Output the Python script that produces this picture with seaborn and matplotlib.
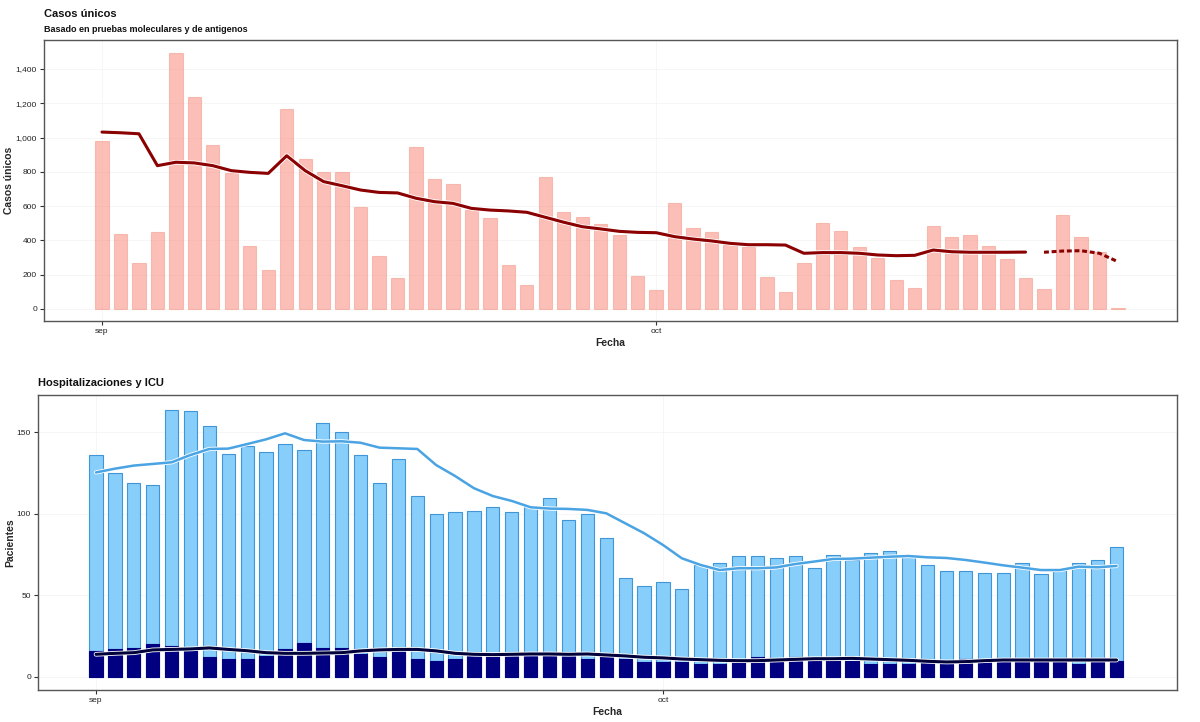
import numpy as np
import pandas as pd
import matplotlib
matplotlib.use("Agg")
import matplotlib.pyplot as plt
import matplotlib.patheffects as pe
from matplotlib.ticker import FuncFormatter
import seaborn as sns

# ---------------------------------------------------------------------------
# Datos
# ---------------------------------------------------------------------------
fecha_inicio = "2021-09-01"

casos = [980, 437, 267, 447, 1495, 1238, 957, 795, 369, 227,
         1167, 875, 801, 797, 593, 311, 179, 947, 757, 727,
         577, 529, 258, 138, 772, 564, 535, 494, 433, 192,
         111, 618, 474, 449, 373, 360, 187, 101, 268, 502,
         455, 362, 298, 169, 122, 484, 420, 432, 369, 292,
         183, 117, 548, 420, 332, 5]

# promedio movil: parte consolidada y parte preliminar (punteada)
promedio_casos = [1032, 1028, 1022, 836, 856, 852, 836, 807, 797, 791,
                  894, 807, 743, 719, 694, 680, 677, 646, 626, 616,
                  587, 577, 572, 564, 535, 506, 480, 467, 453, 447,
                  445, 422, 408, 397, 383, 375, 375, 373, 325, 329,
                  329, 325, 315, 311, 313, 344, 334, 331, 331, 331,
                  332]
promedio_prelim = [331, 338, 340, 325, 276]

hospitalizados = [136, 125, 119, 118, 164, 163, 154, 137, 142, 138,
                  143, 139, 156, 150, 136, 119, 134, 111, 100, 101,
                  102, 104, 101, 104, 110, 96, 100, 85, 61, 56,
                  58, 54, 69, 70, 74, 74, 73, 74, 67, 75,
                  72, 76, 77, 74, 69, 65, 65, 64, 64, 70,
                  63, 66, 70, 72, 80]

icu = [16, 17, 18, 20, 19, 18, 12, 11, 11, 13,
       17, 21, 18, 18, 14, 12, 17, 11, 10, 11,
       13, 14, 13, 13, 14, 13, 11, 14, 11, 9,
       9, 9, 8, 8, 10, 12, 11, 12, 10, 11,
       10, 8, 8, 8, 9, 9, 11, 11, 11, 10,
       10, 10, 8, 10, 10]

promedio_hosp = [125.5, 127.8, 129.7, 130.7, 131.7, 136.2, 139.9, 140.1, 142.9, 145.8,
                 149.5, 145.4, 144.4, 144.6, 143.7, 140.7, 140.3, 139.9, 130.0, 123.3,
                 115.8, 111.0, 108.0, 104.1, 103.3, 103.1, 102.5, 100.4, 94.3, 88.2,
                 81.0, 72.8, 68.7, 65.6, 66.7, 66.7, 67.2, 69.3, 70.8, 72.4,
                 72.6, 73.2, 73.8, 74.2, 73.4, 73.0, 71.8, 70.2, 68.5, 67.1,
                 65.6, 65.6, 67.7, 67.3, 68.1]

promedio_icu = [13.9, 14.5, 14.9, 16.6, 16.9, 17.2, 17.8, 16.9, 16.1, 14.9,
                14.5, 14.5, 14.7, 14.9, 16.0, 16.6, 16.9, 16.9, 16.0, 14.5,
                13.9, 13.7, 13.9, 14.1, 14.1, 13.9, 14.1, 13.5, 12.9, 12.1,
                11.7, 11.0, 10.6, 10.2, 10.0, 10.0, 10.4, 10.8, 11.2, 11.2,
                11.4, 11.0, 10.6, 10.2, 9.6, 9.2, 9.4, 10.0, 10.4, 10.4,
                10.4, 10.4, 10.4, 10.4, 10.4]

mes_ticks = ["sep", "oct"]

# dias desde el 1 de septiembre
fechas_casos = pd.date_range(fecha_inicio, periods=len(casos))
fechas_hosp = pd.date_range(fecha_inicio, periods=len(hospitalizados))
t0 = pd.Timestamp(fecha_inicio)
dia_casos = np.array((fechas_casos - t0).days)
dia_hosp = np.array((fechas_hosp - t0).days)
dia_prom = dia_casos[:len(promedio_casos)]
dia_prelim = dia_casos[len(promedio_casos):len(promedio_casos) + len(promedio_prelim)]
mes_pos = [0, (pd.Timestamp("2021-10-01") - t0).days]

# ---------------------------------------------------------------------------
# Estilo
# ---------------------------------------------------------------------------
sns.set_theme(style="white")
plt.rcParams["font.family"] = ["Liberation Sans", "DejaVu Sans"]

W, H = 1200, 722
fig = plt.figure(figsize=(W / 100, H / 100), dpi=100)


def px_axes(left, top, right, bottom):
    return fig.add_axes([left / W, 1 - bottom / H, (right - left) / W, (bottom - top) / H])


def estilo_ejes(ax):
    for s in ax.spines.values():
        s.set_color("#555555")
        s.set_linewidth(1.0)
    ax.grid(True, color="#f5f5f5", linewidth=0.6)
    ax.set_axisbelow(True)
    ax.tick_params(axis="both", labelsize=6, length=3, width=0.8,
                   color="#333333", labelcolor="#222222", pad=2, bottom=True, left=True)
    ax.set_xticks(mes_pos)
    ax.set_xticklabels(mes_ticks)
    ax.set_xlabel("Fecha", fontsize=7.5, fontweight="bold", labelpad=2)


halo = lambda lw: [pe.Stroke(linewidth=lw + 1.2, foreground="white"), pe.Normal()]

# ---------------------------------------------------------------------------
# Panel 1: Casos unicos
# ---------------------------------------------------------------------------
ax1 = px_axes(44, 40, 1177, 321)
sns.barplot(x=dia_casos, y=casos, native_scale=True, ax=ax1, color="#fa8072",
            saturation=1, alpha=0.5, width=0.72, edgecolor="#f0907f",
            linewidth=0.8, errorbar=None)
sns.lineplot(x=dia_prom, y=promedio_casos, ax=ax1, color="#8b0000", lw=2.2,
             path_effects=halo(2.2))
sns.lineplot(x=dia_prelim, y=promedio_prelim, ax=ax1, color="#8b0000", lw=2.2,
             linestyle=(0, (1.6, 0.9)))
ax1.set_xlim(-3.14, 58.2)
ax1.set_ylim(-70, 1569)
ax1.set_yticks(range(0, 1401, 200))
ax1.yaxis.set_major_formatter(FuncFormatter(lambda v, _: f"{int(v):,}"))
ax1.set_ylabel("Casos únicos", fontsize=7.5, fontweight="bold", labelpad=1)
estilo_ejes(ax1)

fig.text(44 / W, 1 - 14 / H, "Casos únicos", fontsize=8, fontweight="bold",
         va="center", ha="left", color="#111111")
fig.text(44 / W, 1 - 29 / H, "Basado en pruebas moleculares y de antigenos",
         fontsize=6.5, fontweight="bold", va="center", ha="left", color="#111111")

# ---------------------------------------------------------------------------
# Panel 2: Hospitalizaciones y ICU
# ---------------------------------------------------------------------------
ax2 = px_axes(38, 395, 1177, 690)
sns.barplot(x=dia_hosp, y=hospitalizados, native_scale=True, ax=ax2, color="#87cefa",
            saturation=1, width=0.7, edgecolor="#3f95d6", linewidth=0.8, errorbar=None)
sns.barplot(x=dia_hosp, y=icu, native_scale=True, ax=ax2, color="#000080",
            saturation=1, width=0.7, edgecolor="#000080", linewidth=0.8, errorbar=None)
sns.lineplot(x=dia_hosp, y=promedio_hosp, ax=ax2, color="#4aa3e2", lw=1.8,
             path_effects=halo(1.8))
sns.lineplot(x=dia_hosp, y=promedio_icu, ax=ax2, color="#00003a", lw=2.2,
             path_effects=halo(2.2))
ax2.set_xlim(-3.07, 57.2)
ax2.set_ylim(-8, 173)
ax2.set_yticks([0, 50, 100, 150])
ax2.set_ylabel("Pacientes", fontsize=7.5, fontweight="bold", labelpad=1)
estilo_ejes(ax2)

fig.text(38 / W, 1 - 383 / H, "Hospitalizaciones y ICU", fontsize=8, fontweight="bold",
         va="center", ha="left", color="#111111")

fig.savefig("out.png", dpi=100)
